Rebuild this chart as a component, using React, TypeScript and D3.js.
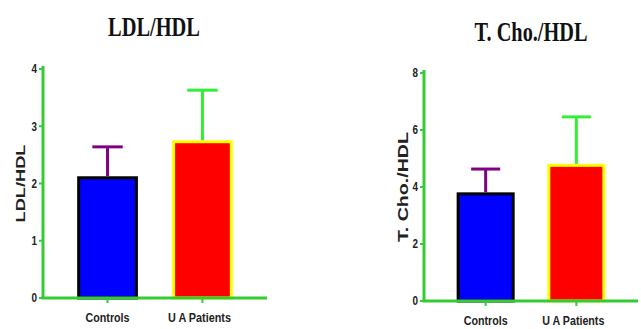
import * as d3 from "d3";

// Two panels: LDL/HDL and T. Cho./HDL ratios, mean + SD
const categories = ["Controls", "U A Patients"];

const ldlMeans = [2.1, 2.73];
const ldlErrTops = [2.64, 3.63];
const ldlTicks = [0, 1, 2, 3, 4];

const choMeans = [3.76, 4.76];
const choErrTops = [4.63, 6.46];
const choTicks = [0, 2, 4, 6, 8];

const barFills = ["#0000ff", "#ff0000"];
const barStrokes = ["#000000", "#ffff00"];
const errColors = ["#800080", "#33ee33"];
const axisColor = "#33cc33";

type PanelProps = {
  title: string;
  yLabel: string;
  means: number[];
  errTops: number[];
  ticks: number[];
  x0: number;
  x1: number;
  yTop: number;
  yBottom: number;
  titleX: number;
  titleY: number;
  titleLen: number;
  yLabelX: number;
  yLabelLen: number;
  yLabelSize: number;
  xLabelLens: number[];
};

const Panel = (p: PanelProps) => {
  const x = d3.scaleBand().domain(categories).range([p.x0, p.x1]).padding(0.36);
  const yMax = p.ticks[p.ticks.length - 1];
  const y = d3.scaleLinear().domain([0, yMax]).range([p.yBottom, p.yTop]);
  const bw = x.bandwidth();
  const yMid = (p.yTop + p.yBottom) / 2;

  return (
    <g>
      <text
        x={p.titleX}
        y={p.titleY}
        textAnchor="middle"
        fontFamily="'Liberation Serif', serif"
        fontWeight="bold"
        fontSize={27}
        fill="#111"
        textLength={p.titleLen}
        lengthAdjust="spacingAndGlyphs"
      >
        {p.title}
      </text>

      <text
        transform={`translate(${p.yLabelX},${yMid}) rotate(-90)`}
        textAnchor="middle"
        fontFamily="'Liberation Sans', Arial, sans-serif"
        fontWeight="bold"
        fontSize={p.yLabelSize}
        fill="#222"
        textLength={p.yLabelLen}
        lengthAdjust="spacingAndGlyphs"
      >
        {p.yLabel}
      </text>

      {/* bars */}
      {categories.map((c, i) => (
        <rect
          key={c}
          x={x(c)! + 1.5}
          y={y(p.means[i])}
          width={bw - 3}
          height={y(0) - y(p.means[i])}
          fill={barFills[i]}
          stroke={barStrokes[i]}
          strokeWidth={3}
        />
      ))}

      {/* error bars */}
      {categories.map((c, i) => {
        const cx = x(c)! + bw / 2;
        return (
          <g key={c} stroke={errColors[i]} strokeWidth={3}>
            <line x1={cx} x2={cx} y1={y(p.means[i]) - 1.5} y2={y(p.errTops[i])} />
            <line x1={cx - bw * 0.25} x2={cx + bw * 0.25} y1={y(p.errTops[i])} y2={y(p.errTops[i])} />
          </g>
        );
      })}

      {/* y axis */}
      <line x1={p.x0} x2={p.x0} y1={y(yMax) - 3} y2={y(0)} stroke={axisColor} strokeWidth={3} />
      {p.ticks.map((t) => (
        <g key={t}>
          <line x1={p.x0 - 4} x2={p.x0} y1={y(t)} y2={y(t)} stroke={axisColor} strokeWidth={2} />
          <text
            x={p.x0 - 6}
            y={y(t)}
            dy="0.36em"
            textAnchor="end"
            fontFamily="'Liberation Sans', Arial, sans-serif"
            fontWeight="bold"
            fontSize={12}
            fill="#222"
            textLength={5.5}
            lengthAdjust="spacingAndGlyphs"
          >
            {t}
          </text>
        </g>
      ))}

      {/* x axis */}
      <line x1={p.x0 - 1.5} x2={p.x1} y1={y(0)} y2={y(0)} stroke={axisColor} strokeWidth={3} />
      {categories.map((c, i) => {
        const cx = x(c)! + bw / 2;
        return (
          <g key={c}>
            <line x1={cx} x2={cx} y1={y(0)} y2={y(0) + 5} stroke={axisColor} strokeWidth={2} />
            <text
              x={cx - (i === 1 ? 3 : 0)}
              y={y(0) + 24}
              textAnchor="middle"
              fontFamily="'Liberation Sans', Arial, sans-serif"
              fontWeight="bold"
              fontSize={13}
              fill="#222"
              textLength={p.xLabelLens[i]}
              lengthAdjust="spacingAndGlyphs"
            >
              {c}
            </text>
          </g>
        );
      })}
    </g>
  );
};

export default function App() {
  return (
    <svg
      width={641}
      height={329}
      style={{ position: "absolute", left: 0, top: 0, background: "#fff" }}
    >
      <Panel
        title="LDL/HDL"
        yLabel="LDL/HDL"
        means={ldlMeans}
        errTops={ldlErrTops}
        ticks={ldlTicks}
        x0={43}
        x1={267}
        yTop={69}
        yBottom={298}
        titleX={154}
        titleY={36}
        titleLen={92}
        yLabelX={25}
        yLabelLen={78}
        yLabelSize={13}
        xLabelLens={[44, 63]}
      />
      <Panel
        title="T. Cho./HDL"
        yLabel="T. Cho./HDL"
        means={choMeans}
        errTops={choErrTops}
        ticks={choTicks}
        x0={424}
        x1={638}
        yTop={73}
        yBottom={301}
        titleX={531}
        titleY={41}
        titleLen={113}
        yLabelX={408}
        yLabelLen={110}
        yLabelSize={14}
        xLabelLens={[44, 62]}
      />
    </svg>
  );
}
